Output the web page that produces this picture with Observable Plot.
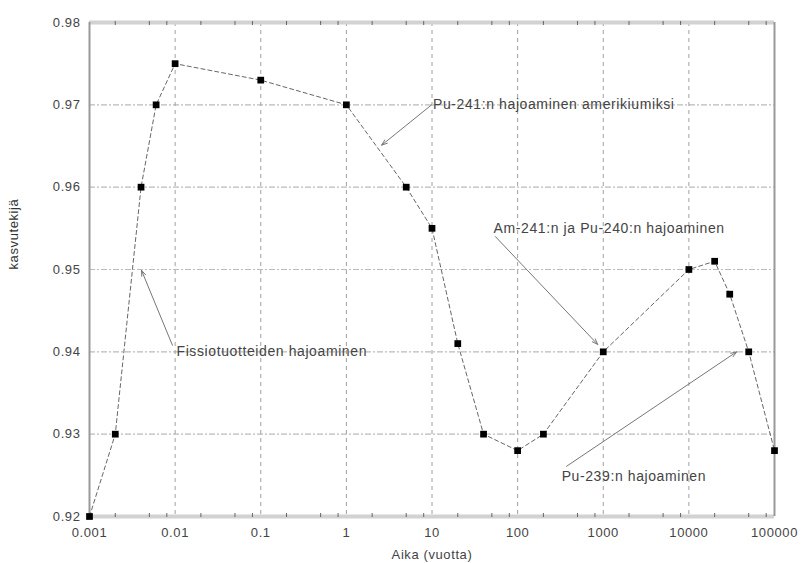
<!DOCTYPE html>
<html>
<head>
<meta charset="utf-8">
<script src="https://cdn.jsdelivr.net/npm/d3@7"></script>
<script src="https://cdn.jsdelivr.net/npm/@observablehq/plot@0.6"></script>
<style>
  html, body { margin: 0; padding: 0; background: #fff; overflow: hidden; }
  #chart svg { display: block; overflow: visible; }
</style>
</head>
<body>
<div id="chart"></div>
<script>
// Data
const years = [0.001, 0.002, 0.004, 0.006, 0.01, 0.1, 1, 5, 10, 20, 40, 100, 200, 1000, 10000, 20000, 30000, 50000, 100000];
const factor = [0.920, 0.930, 0.960, 0.970, 0.975, 0.973, 0.970, 0.960, 0.955, 0.941, 0.930, 0.928, 0.930, 0.940, 0.950, 0.951, 0.947, 0.940, 0.928];

const xTicks = [0.001, 0.01, 0.1, 1, 10, 100, 1000, 10000, 100000];
const xTickLabels = ["0.001", "0.01", "0.1", "1", "10", "100", "1000", "10000", "100000"];
const yTicks = [0.92, 0.93, 0.94, 0.95, 0.96, 0.97, 0.98];
const yTickLabels = ["0.92", "0.93", "0.94", "0.95", "0.96", "0.97", "0.98"];
const minorMultipliers = [2, 5, 8];

// Annotations (text anchor points and arrows, in data coordinates)
const noteText = ["Pu-241:n hajoaminen amerikiumiksi", "Am-241:n ja Pu-240:n hajoaminen", "Fissiotuotteiden hajoaminen", "Pu-239:n hajoaminen"];
const noteX = [10, 51, 0.0101, 318];
const noteY = [0.970, 0.955, 0.940, 0.9249];
const arrowX1 = [9.9, 55, 0.0093, 373];
const arrowY1 = [0.970, 0.954, 0.9408, 0.9261];
const arrowX2 = [2.58, 861, 0.00405, 36100];
const arrowY2 = [0.9651, 0.9409, 0.9499, 0.940];

const xLabel = "Aika (vuotta)";
const yLabel = "kasvutekijä";

const points = years.map((x, i) => ({x, y: factor[i]}));
const notes = noteText.map((t, i) => ({t, x: noteX[i], y: noteY[i]}));
const arrows = arrowX1.map((x1, i) => ({x1, y1: arrowY1[i], x2: arrowX2[i], y2: arrowY2[i]}));
const minor = [];
for (let i = 0; i < xTicks.length - 1; i++) for (const m of minorMultipliers) minor.push(xTicks[i] * m);

const chart = Plot.plot({
  width: 804,
  height: 563,
  marginLeft: 89,
  marginRight: 30,
  marginTop: 22,
  marginBottom: 47,
  style: {fontFamily: "'Liberation Sans', Arial, sans-serif", fontSize: "13px", letterSpacing: "0.6px", color: "#444", background: "#fff"},
  x: {type: "log", domain: [0.001, 100000]},
  y: {domain: [0.92, 0.98]},
  marks: [
    // grid
    Plot.ruleY(yTicks.slice(1, -1), {stroke: "#bbb", strokeWidth: 1.2, strokeDasharray: "6,2,2,2"}),
    Plot.ruleX(xTicks.slice(1, -1), {stroke: "#a0a0a0", strokeWidth: 1, strokeDasharray: "4,4"}),
    // frame
    Plot.ruleY([0.98, 0.92], {stroke: "#d2d2d2", strokeWidth: 4}),
    Plot.ruleX([0.001, 100000], {stroke: "#999", strokeWidth: 2}),
    // minor ticks (bottom and top)
    Plot.ruleX(minor, {x: d => d, y1: 0.92, y2: 0.92, insetTop: -3, insetBottom: -1, stroke: "#666"}),
    Plot.ruleX(minor, {x: d => d, y1: 0.98, y2: 0.98, insetTop: -1, insetBottom: -3, stroke: "#666"}),
    // axes
    Plot.axisX({ticks: xTicks, tickSize: 0, tickPadding: 11, tickFormat: d => xTickLabels[xTicks.indexOf(d)], label: null, fill: "#444", fontSize: 13}),
    Plot.axisY({ticks: yTicks, tickSize: 0, tickPadding: 9, tickFormat: d => yTickLabels[yTicks.indexOf(d)], label: null, fill: "#444", fontSize: 13}),
    Plot.text([xLabel], {frameAnchor: "bottom", dy: 42, fill: "#444", fontSize: 13}),
    Plot.text([yLabel], {frameAnchor: "left", dx: -76, rotate: -90, fill: "#333", fontSize: 13}),
    // data
    Plot.line(points, {x: "x", y: "y", stroke: "#666", strokeWidth: 1, strokeDasharray: "4,3"}),
    Plot.dot(points, {x: "x", y: "y", symbol: "square", r: 3.8, fill: "#000", stroke: null}),
    // annotations
    Plot.arrow(arrows, {x1: "x1", y1: "y1", x2: "x2", y2: "y2", stroke: "#777", strokeWidth: 1, headLength: 9, headAngle: 40}),
    Plot.text(notes, {x: "x", y: "y", text: "t", textAnchor: "start", dx: 1, fill: "#444", fontSize: 14})
  ]
});
document.getElementById("chart").appendChild(chart);
</script>
</body>
</html>
